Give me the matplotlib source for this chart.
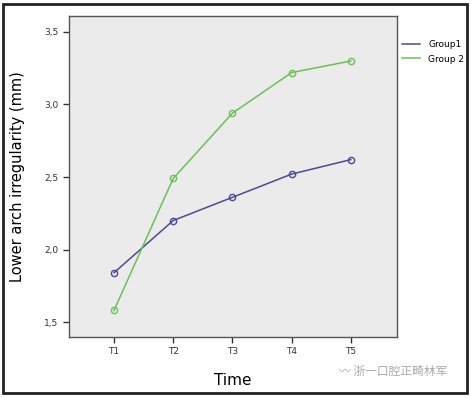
import matplotlib.pyplot as plt
from matplotlib.patches import Rectangle
from matplotlib.lines import Line2D

times = ['T1', 'T2', 'T3', 'T4', 'T5']
group1 = [1.84, 2.20, 2.36, 2.52, 2.62]
group2 = [1.58, 2.49, 2.94, 3.22, 3.30]
yticks = [1.5, 2.0, 2.5, 3.0, 3.5]
ytick_labels = ['1,5', '2,0', '2,5', '3,0', '3,5']

c1 = '#4a4a96'
c2 = '#6cbf5a'

plt.rcParams['font.family'] = ['DejaVu Sans', 'Noto Sans CJK SC']

fig = plt.figure(figsize=(4.71, 3.98), dpi=100)
fig.patch.set_facecolor('white')
ax = fig.add_axes([0.1465, 0.1533, 0.6965, 0.8065])
ax.set_facecolor('#ebebeb')

x = range(len(times))
ax.plot(x, group1, color=c1, lw=1.1, marker='o', ms=4.5,
        mfc='none', mec=c1, mew=1)
ax.plot(x, group2, color=c2, lw=1.1, marker='o', ms=4.5,
        mfc='none', mec=c2, mew=1)

ax.set_xlim(-0.76, 4.78)
ax.set_ylim(1.397, 3.61)
ax.set_xticks(list(x))
ax.set_xticklabels(times, fontsize=6.5, color='#333333')
ax.set_yticks(yticks)
ax.set_yticklabels(ytick_labels, fontsize=6.5, color='#333333')
ax.tick_params(length=4, width=1, color='#333333')
for s in ax.spines.values():
    s.set_color('#555555')
    s.set_linewidth(1)

ax.set_xlabel('Time', fontsize=11, labelpad=12)
ax.set_ylabel('Lower arch irregularity (mm)', fontsize=10.5, labelpad=14)

handles = [Line2D([], [], color=c1, lw=1.1), Line2D([], [], color=c2, lw=1.1)]
ax.legend(handles, ['Group1', 'Group 2'], loc='upper left',
          bbox_to_anchor=(0.99, 0.95), frameon=False, fontsize=6.5,
          handlelength=2.0, handletextpad=0.9, labelspacing=0.6)

# outer frame
fig.patches.append(Rectangle((0.007, 0.012), 0.984, 0.978, transform=fig.transFigure,
                             fill=False, edgecolor='#222222', lw=2))

fig.text(0.72, 0.058, '〰 浙一口腔正畸林军', fontsize=8.5, color='#aaaaaa',
         family=['Noto Sans CJK SC', 'DejaVu Sans'])

fig.savefig('out.png', dpi=100)
